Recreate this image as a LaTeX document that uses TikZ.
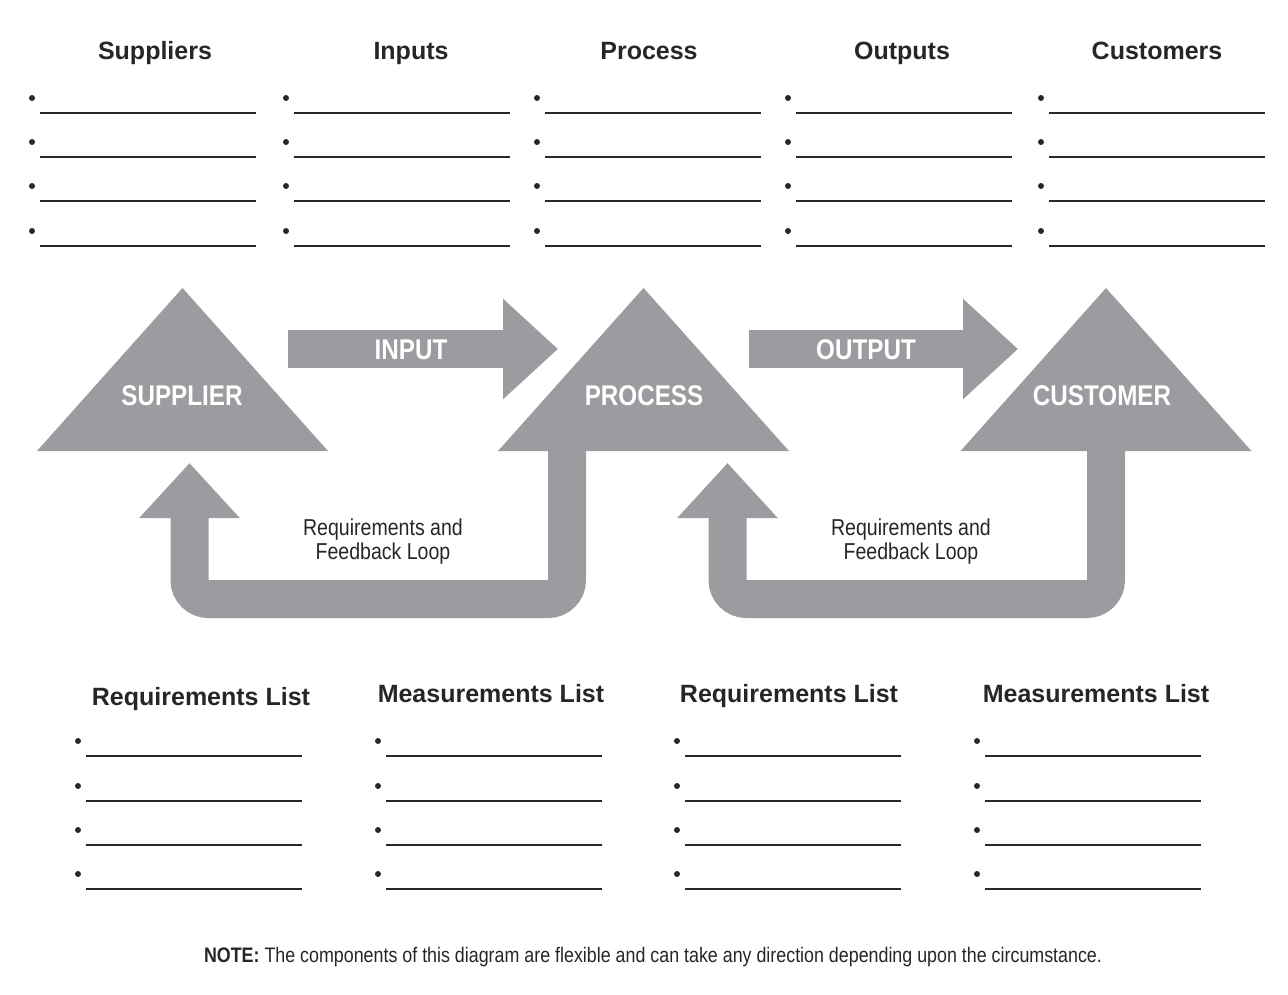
\documentclass[tikz,border=0pt]{standalone}
\usepackage{fontspec}
\setmainfont{Liberation Sans}
\newfontfamily\narrowfont[FakeStretch=0.85]{Liberation Sans}
\usetikzlibrary{arrows.meta}
\definecolor{sipocgray}{RGB}{155,156,160}
\definecolor{rulegray}{RGB}{40,40,40}

\begin{document}
\begin{tikzpicture}[x=1pt,y=-1pt,>={Triangle[width=97pt,length=55pt]}]

  \tikzstyle{heading}=[anchor=base,inner sep=0pt,font=\fontsize{25}{30}\selectfont\bfseries,text=black!85]
  \tikzstyle{shapelabel}=[anchor=base,inner sep=0pt,font=\narrowfont\fontsize{28.5}{34}\selectfont\bfseries,text=white]
  \tikzstyle{looplabel}=[anchor=base,inner sep=0pt,font=\narrowfont\fontsize{23}{25}\selectfont,text=black!85]
  \tikzstyle{flow}=[line width=38pt,draw=sipocgray,->]
  \tikzstyle{feedback}=[flow,rounded corners=19pt]
  \tikzstyle{blank}=[line width=2pt,draw=rulegray]
  \tikzstyle{dot}=[fill=rulegray]

  \useasboundingbox (0,0) rectangle (1288,994);

  % top lists
  \foreach \title/\hx/\bx [count=\i] in {Suppliers/155/32,Inputs/411/286,Process/649/537,Outputs/902/788,Customers/1157/1041} {
    \node [heading] (top-\i) at (\hx,59) {\title};
    \foreach \y in {113,157,201,246} {
      \fill [dot] (\bx,\y-15) circle (3);
      \draw [blank] (\bx+8,\y) -- ++(216,0);
    }
  }

  % triangles
  \foreach \name/\cx in {supplier/182.5,process/643.5,customer/1106} {
    \fill [sipocgray] (\cx,288) -- (\cx+145.5,451) -- (\cx-145.5,451) -- cycle;
  }
  \node [shapelabel] (supplier) at (182,405) {SUPPLIER};
  \node [shapelabel] (process)  at (644,405) {PROCESS};
  \node [shapelabel] (customer) at (1102,405) {CUSTOMER};

  % input and output
  \coordinate (input-tail)  at (288,349);
  \coordinate (input-tip)   at (558,349);
  \coordinate (output-tail) at (749,349);
  \coordinate (output-tip)  at (1018,349);
  \draw [flow] (input-tail) -- (input-tip);
  \draw [flow] (output-tail) -- (output-tip);
  \node [shapelabel] (input)  at (411,359) {INPUT};
  \node [shapelabel] (output) at (866,359) {OUTPUT};

  % feedback loops
  \coordinate (process-foot)  at (567,451);
  \coordinate (supplier-foot) at (189.5,463);
  \coordinate (customer-foot) at (1106,451);
  \coordinate (process-back)  at (727.5,463);
  \draw [feedback] (process-foot) -- ++(0,148) -| (supplier-foot);
  \draw [feedback] (customer-foot) -- ++(0,148) -| (process-back);
  \node [looplabel] (loop1a) at (383,535) {Requirements and};
  \node [looplabel] (loop1b) at (383,559) {Feedback Loop};
  \node [looplabel] (loop2a) at (911,535) {Requirements and};
  \node [looplabel] (loop2b) at (911,559) {Feedback Loop};

  % bottom lists
  \foreach \title/\hx/\hy/\bx [count=\i] in {Requirements List/201/705/78,Measurements List/491/702/378,Requirements List/789/702/677,Measurements List/1096/702/977} {
    \node [heading] (low-\i) at (\hx,\hy) {\title};
    \foreach \y in {756,801,845,889} {
      \fill [dot] (\bx,\y-15) circle (3);
      \draw [blank] (\bx+8,\y) -- ++(216,0);
    }
  }

  \node [anchor=base,inner sep=0pt,font=\narrowfont\fontsize{21}{24}\selectfont,text=black!85] (note) at (653,962)
    {\textbf{NOTE:} The components of this diagram are flexible and can take any direction depending upon the circumstance.};

\end{tikzpicture}
\end{document}
